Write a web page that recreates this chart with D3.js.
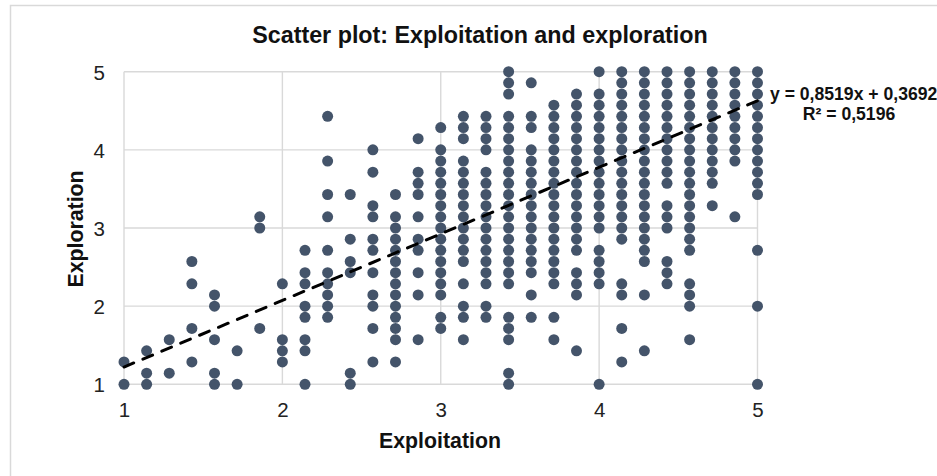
<!DOCTYPE html>
<html>
<head>
<meta charset="utf-8">
<script src="https://cdn.jsdelivr.net/npm/d3@7"></script>
<style>
  html, body { margin: 0; padding: 0; background: #fff; }
  svg { display: block; font-family: "Liberation Sans", Arial, sans-serif; }
</style>
</head>
<body>
<svg id="chart" width="937" height="476"></svg>
<script>
// Scores are sums of 7 Likert items (1-5); the plotted value is the item mean (sum / 7).
const itemsPerScale = 7;
// Exploitation sum score for each column of points
const exploitationSums = [7, 8, 9, 10, 11, 12, 13, 14, 15, 16, 17, 18, 19, 20, 21,
  22, 23, 24, 25, 26, 27, 28, 29, 30, 31, 32, 33, 34, 35];
// Exploration sum scores observed in each column (same order as exploitationSums)
const explorationSums = [
  [7, 9],
  [7, 8, 10],
  [8, 11],
  [9, 12, 16, 18],
  [7, 8, 11, 14, 15],
  [7, 10],
  [12, 21, 22],
  [9, 10, 11, 16],
  [7, 10, 11, 13, 14, 16, 17, 19],
  [13, 14, 15, 16, 17, 19, 22, 24, 27, 31],
  [7, 8, 17, 18, 20, 24],
  [9, 12, 14, 15, 17, 19, 20, 22, 23, 26, 28],
  [9, 11, 12, 13, 14, 15, 16, 17, 18, 19, 20, 21, 22, 24],
  [11, 15, 17, 19, 20, 22, 24, 25, 26, 29],
  [12, 13, 15, 16, 17, 18, 19, 20, 21, 22, 23, 24, 25, 26, 27, 28, 30],
  [11, 13, 14, 16, 18, 19, 20, 21, 22, 23, 24, 25, 26, 27, 29, 30, 31],
  [13, 14, 16, 17, 18, 19, 20, 21, 22, 23, 24, 25, 26, 28, 29, 30, 31],
  [7, 8, 11, 12, 13, 16, 17, 18, 19, 20, 21, 22, 23, 24, 25, 26, 27, 28, 29, 30, 31, 33, 34, 35],
  [13, 15, 17, 18, 19, 20, 21, 22, 23, 24, 25, 26, 27, 28, 30, 31, 34],
  [11, 13, 16, 17, 18, 19, 20, 21, 22, 23, 24, 25, 26, 27, 28, 29, 30, 31, 32],
  [10, 15, 16, 17, 19, 20, 21, 22, 23, 24, 25, 26, 27, 28, 29, 30, 31, 32, 33],
  [7, 16, 17, 18, 19, 21, 22, 23, 24, 25, 26, 27, 28, 29, 30, 31, 32, 33, 35],
  [9, 12, 15, 16, 20, 21, 22, 23, 24, 25, 26, 27, 28, 29, 30, 31, 32, 33, 34, 35],
  [10, 15, 18, 19, 20, 21, 22, 23, 24, 25, 26, 27, 28, 29, 30, 31, 32, 33, 34, 35],
  [16, 17, 18, 21, 22, 23, 25, 26, 27, 28, 29, 30, 31, 32, 33, 34, 35],
  [11, 14, 15, 16, 19, 20, 21, 22, 23, 24, 25, 26, 27, 28, 29, 30, 31, 32, 33, 34, 35],
  [23, 25, 26, 27, 28, 29, 30, 31, 32, 33, 34, 35],
  [22, 27, 28, 29, 30, 31, 32, 33, 34, 35],
  [7, 14, 19, 24, 25, 26, 27, 28, 29, 30, 31, 32, 33, 34, 35]
];
const xTicks = [1, 2, 3, 4, 5];
const yTicks = [1, 2, 3, 4, 5];
const trendSlope = 0.8519;
const trendIntercept = 0.3692;
const trendLabel = "y = 0,8519x + 0,3692";
const r2Label = "R² = 0,5196";
const titleText = "Scatter plot: Exploitation and exploration";
const xTitle = "Exploitation";
const yTitle = "Exploration";

const points = [];
exploitationSums.forEach((xs, i) => {
  explorationSums[i].forEach(ys => points.push({ x: xs / itemsPerScale, y: ys / itemsPerScale }));
});

const svg = d3.select("#chart");
const x = d3.scaleLinear().domain([1, 5]).range([124, 757.5]);
const y = d3.scaleLinear().domain([1, 5]).range([384.3, 71.7]);

// chart border
svg.append("rect").attr("x", 10.5).attr("y", 5.5).attr("width", 960).attr("height", 520)
  .attr("fill", "#fff").attr("stroke", "#d9d9d9").attr("stroke-width", 1.5);

// gridlines
const grid = svg.append("g").attr("stroke", "#d9d9d9").attr("stroke-width", 1.4);
grid.selectAll("line.v").data(xTicks).join("line").attr("class", "v")
  .attr("x1", d => x(d)).attr("x2", d => x(d)).attr("y1", y(1)).attr("y2", y(5));
grid.selectAll("line.h").data(yTicks).join("line").attr("class", "h")
  .attr("x1", x(1)).attr("x2", x(5)).attr("y1", d => y(d)).attr("y2", d => y(d));

// axes tick labels
const xAxis = d3.axisBottom(x).tickValues(xTicks).tickFormat(d3.format("d")).tickSize(0).tickPadding(0);
const gx = svg.append("g").attr("transform", `translate(0,${y(1)})`).call(xAxis);
gx.select(".domain").remove();
gx.selectAll("text").attr("font-size", 20.5).attr("fill", "#222").attr("dy", null).attr("y", 33)
  .attr("font-family", "Liberation Sans, Arial, sans-serif");

const yAxis = d3.axisLeft(y).tickValues(yTicks).tickFormat(d3.format("d")).tickSize(0).tickPadding(0);
const gy = svg.append("g").attr("transform", `translate(${x(1)},0)`).call(yAxis);
gy.select(".domain").remove();
gy.selectAll("text").attr("font-size", 20.5).attr("fill", "#222").attr("x", -19).attr("dy", "0.36em")
  .attr("font-family", "Liberation Sans, Arial, sans-serif");

// points
svg.append("g").selectAll("circle").data(points).join("circle")
  .attr("cx", d => x(d.x)).attr("cy", d => y(d.y)).attr("r", 5.5).attr("fill", "#44546a");

// trend line
svg.append("line")
  .attr("x1", x(1)).attr("y1", y(trendSlope * 1 + trendIntercept))
  .attr("x2", x(5)).attr("y2", y(trendSlope * 5 + trendIntercept))
  .attr("stroke", "#000").attr("stroke-width", 3).attr("stroke-linecap", "round")
  .attr("stroke-dasharray", "10.5,10");

// title
svg.append("text").attr("x", 480).attr("y", 43).attr("text-anchor", "middle")
  .attr("font-size", 23.3).attr("font-weight", "bold").attr("fill", "#111").text(titleText);

// axis titles
svg.append("text").attr("x", 440).attr("y", 448).attr("text-anchor", "middle")
  .attr("font-size", 21.3).attr("font-weight", "bold").attr("fill", "#111").text(xTitle);
svg.append("text").attr("transform", "translate(83,229) rotate(-90)").attr("text-anchor", "middle")
  .attr("font-size", 21.3).attr("font-weight", "bold").attr("fill", "#111").text(yTitle);

// trendline label
svg.append("text").attr("x", 770).attr("y", 100).attr("text-anchor", "start")
  .attr("font-size", 17.6).attr("font-weight", "bold").attr("fill", "#111").text(trendLabel);
svg.append("text").attr("x", 849).attr("y", 119.5).attr("text-anchor", "middle")
  .attr("font-size", 17.6).attr("font-weight", "bold").attr("fill", "#111").text(r2Label);
</script>
</body>
</html>
